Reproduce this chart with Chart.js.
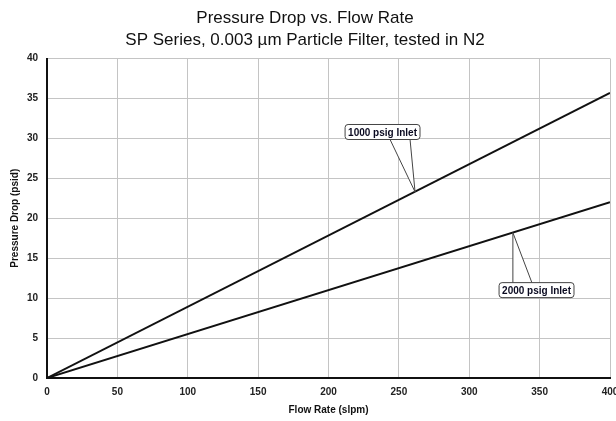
<!DOCTYPE html>
<html>
<head>
<meta charset="utf-8">
<script src="https://cdn.jsdelivr.net/npm/chart.js@4"></script>
<style>
  body { margin: 0; background: #fff; }
  #wrap { width: 616px; height: 421px; }
</style>
</head>
<body>
<div id="wrap"><canvas id="pdChart" width="616" height="421"></canvas></div>
<script>
// flow rate (slpm) end points and pressure drop (psid) per inlet pressure
const flowRate = [0, 400];
const drop1000 = [0, 35.7];
const drop2000 = [0, 22];
const xTicks = [0, 50, 100, 150, 200, 250, 300, 350, 400];
const yTicks = [0, 5, 10, 15, 20, 25, 30, 35, 40];

// callout labels: text, label centre and the point it points at (data units)
const calloutText = ["1000 psig Inlet", "2000 psig Inlet"];
const calloutAt = [[238.4, 30.8], [347.8, 11]];
const calloutTip = [[261.5, 23.3], [331, 18.2]];

const FONT = '"Liberation Sans", Arial, sans-serif';

function toPts(xs, ys){
  return xs.map((x, i) => ({x: x, y: ys[i]}));
}

// draws the little boxed labels with the wedge pointers
const callouts = {
  id: 'callouts',
  afterDatasetsDraw(chart){
    const ctx = chart.ctx;
    const xs = chart.scales.x, ys = chart.scales.y;
    ctx.save();
    ctx.font = 'bold 10px ' + FONT;
    calloutText.forEach((txt, i) => {
      const cx = xs.getPixelForValue(calloutAt[i][0]);
      const cy = ys.getPixelForValue(calloutAt[i][1]);
      const tx = xs.getPixelForValue(calloutTip[i][0]);
      const ty = ys.getPixelForValue(calloutTip[i][1]);
      const w = ctx.measureText(txt).width + 6, h = 15;
      const left = cx - w / 2, top = cy - h / 2;
      const edgeY = ty > cy ? top + h : top;
      const b1 = ty > cy ? tx - 25 : tx;
      const b2 = ty > cy ? tx - 5 : tx + 19;
      ctx.strokeStyle = '#444';
      ctx.lineWidth = 1;
      ctx.fillStyle = '#fff';
      ctx.beginPath();
      ctx.moveTo(b1, edgeY);
      ctx.lineTo(tx, ty);
      ctx.lineTo(b2, edgeY);
      ctx.fill();
      ctx.stroke();
      ctx.beginPath();
      ctx.roundRect(left, top, w, h, 3);
      ctx.fill();
      ctx.stroke();
      ctx.fillStyle = '#0a0a20';
      ctx.textAlign = 'center';
      ctx.textBaseline = 'middle';
      ctx.fillText(txt, cx, cy + 1);
    });
    ctx.restore();
  }
};

new Chart('pdChart', {
  type: 'scatter',
  data: {
    datasets: [
      {
        label: '1000 psig Inlet',
        data: toPts(flowRate, drop1000),
        showLine: true,
        borderColor: '#111',
        borderWidth: 2,
        pointRadius: 0
      },
      {
        label: '2000 psig Inlet',
        data: toPts(flowRate, drop2000),
        showLine: true,
        borderColor: '#111',
        borderWidth: 2,
        pointRadius: 0
      }
    ]
  },
  options: {
    responsive: false,
    animation: false,
    layout: { padding: { top: 0, right: 6, bottom: 0, left: 0 } },
    plugins: {
      legend: { display: false },
      tooltip: { enabled: false },
      title: {
        display: true,
        text: ['Pressure Drop vs. Flow Rate', 'SP Series, 0.003 \u00b5m Particle Filter, tested in N2'],
        color: '#111',
        font: { family: FONT, size: 17, weight: 'normal', lineHeight: 1.25 },
        padding: { top: 8, bottom: 8 }
      }
    },
    scales: {
      x: {
        type: 'linear',
        min: 0,
        max: 400,
        afterBuildTicks: s => { s.ticks = xTicks.map(v => ({value: v})); },
        afterFit: s => { s.height = 43; s.paddingLeft = 0; s.paddingRight = 0; },
        grid: { color: '#c4c4c4', lineWidth: 1, drawTicks: false },
        border: { color: '#111', width: 2 },
        ticks: {
          color: '#222',
          padding: 8,
          maxRotation: 0,
          font: { family: FONT, size: 10, weight: 'bold' }
        },
        title: {
          display: true,
          text: 'Flow Rate (slpm)',
          color: '#111',
          padding: { top: 3, bottom: 5 },
          font: { family: FONT, size: 10, weight: 'bold' }
        }
      },
      y: {
        min: 0,
        max: 40,
        afterBuildTicks: s => { s.ticks = yTicks.map(v => ({value: v})); },
        afterFit: s => { s.width = 47; s.paddingTop = 0; s.paddingBottom = 0; },
        grid: { color: '#c4c4c4', lineWidth: 1, drawTicks: false },
        border: { color: '#111', width: 2 },
        ticks: {
          color: '#222',
          padding: 9,
          font: { family: FONT, size: 10, weight: 'bold' }
        },
        title: {
          display: true,
          text: 'Pressure Drop (psid)',
          color: '#111',
          padding: { top: 9, bottom: 4 },
          font: { family: FONT, size: 10, weight: 'bold' }
        }
      }
    }
  },
  plugins: [callouts]
});
</script>
</body>
</html>
